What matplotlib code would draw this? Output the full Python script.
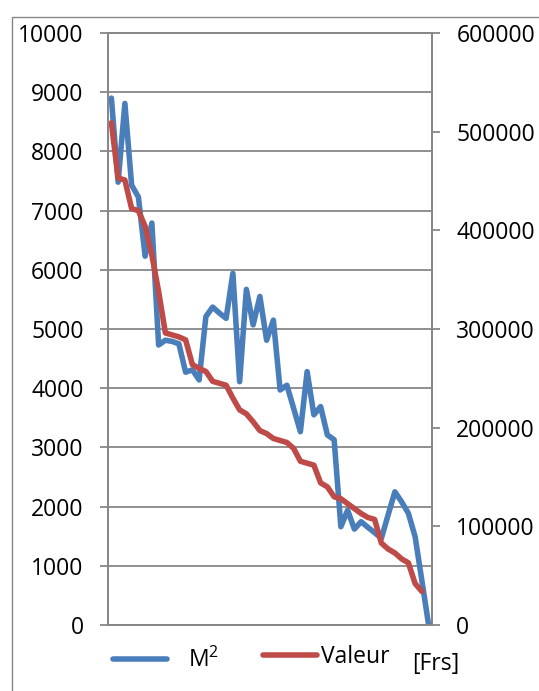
import matplotlib
matplotlib.use("Agg")
import matplotlib.pyplot as plt
import matplotlib.patches as patches
import numpy as np

plt.rcParams['font.family'] = ['Open Sans', 'DejaVu Sans']
plt.rcParams['mathtext.fontset'] = 'custom'
plt.rcParams['mathtext.rm'] = 'Open Sans'
plt.rcParams['mathtext.it'] = 'Open Sans'
plt.rcParams['mathtext.default'] = 'regular'

# surface in m2 (left axis)
surface = [8900, 7480, 8810, 7430, 7230, 6230, 6790, 4730, 4810, 4790,
           4750, 4270, 4310, 4140, 5210, 5370, 5270, 5180, 5940, 4110,
           5670, 5070, 5550, 4810, 5150, 3970, 4050, 3660, 3265, 4280,
           3550, 3690, 3210, 3130, 1660, 1940, 1620, 1745, 1650, 1560,
           1464, 1860, 2250, 2080, 1887, 1490, 750, 0]

# value in Frs (right axis), last entry missing
valeur = [509000, 453000, 451000, 422000, 420000, 404000, 375000, 338000,
          296000, 294000, 292000, 289000, 264000, 260000, 257000, 247000,
          245000, 243000, 230000, 218000, 214000, 206000, 197000, 194000,
          189000, 187000, 185000, 179000, 166000, 164000, 162000, 144000,
          140000, 130000, 128000, 123000, 118000, 113000, 109000, 107000,
          83000, 77000, 73000, 67000, 63000, 42000, 34000, np.nan]

left_ticks = np.arange(0, 10001, 1000)
right_ticks = np.arange(0, 600001, 100000)

BLUE = '#4A7EBB'
RED = '#BE4B48'
GRAY = '#878787'
FS = 16.5

fig = plt.figure(figsize=(5.39, 6.91), dpi=100)
ax = fig.add_axes([108 / 539, 1 - 625 / 691, 324 / 539, 592 / 691])
ax2 = ax.twinx()

x = np.arange(len(surface))
l1, = ax.plot(x, surface, color=BLUE, lw=4,
              solid_joinstyle='round', solid_capstyle='round')
l2, = ax2.plot(x, valeur, color=RED, lw=4,
               solid_joinstyle='round', solid_capstyle='round')

ax.set_xlim(-0.5, len(surface) - 0.5)
ax.set_ylim(0, 10000)
ax2.set_ylim(0, 600000)
ax.set_yticks(left_ticks)
ax.set_yticklabels([str(v) for v in left_ticks])
ax2.set_yticks(right_ticks)
ax2.set_yticklabels([str(v) for v in right_ticks])
ax.set_xticks([])

ax.yaxis.grid(True, color=GRAY, lw=1.3)
ax.set_axisbelow(True)

for a in (ax, ax2):
    for s in a.spines.values():
        s.set_color(GRAY)
        s.set_linewidth(1.3)
    a.tick_params(axis='y', direction='out', length=6, width=1.3,
                  color=GRAY, pad=11.5, labelsize=FS, labelcolor='black')

# chart area border
fig.add_artist(patches.Rectangle((12 / 539, -0.1), 1.2, 1.1 - 17 / 691,
                                 transform=fig.transFigure, fill=False,
                                 edgecolor=GRAY, lw=1.0))

# legend
fig.legend([l1], ['M$^2$'], loc='center left', bbox_to_anchor=(113 / 539, 1 - 660 / 691),
           frameon=False, fontsize=FS, handlelength=2.36, handletextpad=0.9,
           borderpad=0, borderaxespad=0)
fig.legend([l2], ['Valeur'], loc='center left', bbox_to_anchor=(263 / 539, 1 - 657 / 691),
           frameon=False, fontsize=FS, handlelength=2.36, handletextpad=0.17,
           borderpad=0, borderaxespad=0)
fig.text(412 / 539, 1 - 664 / 691, '[Frs]', fontsize=FS, va='center', ha='left')

fig.savefig('out.png', dpi=100)
